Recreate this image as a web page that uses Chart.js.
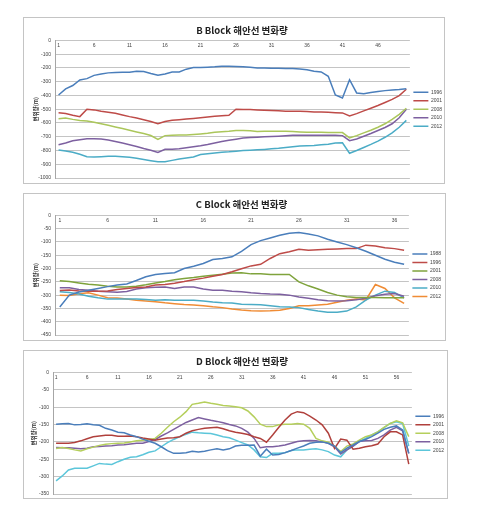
<!DOCTYPE html>
<html>
<head>
<meta charset="utf-8">
<script src="https://cdn.jsdelivr.net/npm/chart.js@4.4.1/dist/chart.umd.min.js"></script>
<style>
  body { margin: 0; background: #fff; width: 482px; height: 524px; position: relative; overflow: hidden; }
  .box { position: absolute; box-sizing: border-box; border: 1px solid #c4c4c4; background: #fff; }
  canvas { position: absolute; display: block; }
</style>
</head>
<body>
<div class="box" style="left:23px; top:17px; width:422px; height:167px;"></div>
<div class="box" style="left:23px; top:193px; width:423px; height:148px;"></div>
<div class="box" style="left:23px; top:350px; width:425px; height:149px;"></div>
<canvas id="chartB" width="428" height="165" style="left:24px; top:18px;"></canvas>
<canvas id="chartC" width="427" height="146" style="left:24px; top:194px;"></canvas>
<canvas id="chartD" width="430" height="147" style="left:24px; top:351px;"></canvas>
<script>
// B Block (50 survey points)
const bYears = ['1996', '2001', '2008', '2010', '2012'];
const b1996 = [-397,-352,-328,-288,-278,-254,-244,-236,-234,-232, -232,-224,-226,-241,-254,-244,-229,-229,-209,-197,
  -197,-195,-192,-187,-187,-190,-192,-195,-200,-200, -202,-202,-204,-204,-207,-214,-224,-229,-261,-397,
  -419,-286,-382,-387,-379,-372,-365,-360,-357,-352];
const b2001 = [-525,-532,-544,-554,-500,-505,-515,-522,-530,-542, -554,-564,-576,-589,-606,-589,-581,-576,-571,-567,
  -562,-557,-552,-547,-544,-500,-503,-503,-505,-507, -510,-512,-515,-515,-515,-517,-520,-520,-522,-525,
  -527,-549,-532,-512,-493,-473,-451,-429,-401,-355];
const b2008 = [-569,-564,-574,-582,-585,-595,-605,-617,-629,-641, -653,-665,-677,-691,-720,-692,-690,-688,-687,-684,
  -680,-675,-668,-663,-660,-655,-655,-657,-662,-660, -660,-660,-660,-662,-665,-667,-667,-668,-669,-670,
  -670,-709,-692,-672,-653,-631,-606,-574,-537,-493];
const b2010 = [-759,-746,-729,-722,-714,-714,-717,-724,-734,-746, -759,-771,-786,-798,-815,-791,-791,-788,-781,-773,
  -766,-757,-746,-735,-726,-718,-710,-706,-703,-700, -698,-696,-693,-690,-690,-690,-690,-690,-690,-690,
  -692,-729,-717,-697,-677,-655,-633,-606,-562,-500];
const b2012 = [-796,-803,-813,-828,-845,-847,-845,-842,-842,-845, -850,-857,-865,-874,-882,-882,-872,-862,-855,-847,
  -830,-823,-818,-813,-810,-805,-800,-798,-795,-792, -788,-784,-778,-773,-768,-766,-764,-759,-754,-746,
  -744,-820,-800,-778,-756,-732,-704,-672,-631,-581];

// C Block (37 survey points)
const cYears = ['1988', '1996', '2001', '2008', '2010', '2012'];
const c1988 = [-345,-300,-288,-282,-275,-268,-262,-258,-245,-231, -222,-219,-216,-200,-191,-181,-166,-162,-156,-135,
  -110,-95,-85,-75,-67,-64,-70,-77,-90,-100, -110,-122,-135,-150,-165,-176,-184];
const c1996 = [-283,-281,-284,-285,-285,-284,-279,-275,-271,-269, -262,-260,-255,-249,-242,-236,-229,-222,-212,-201,
  -190,-184,-162,-144,-137,-127,-131,-129,-127,-126, -125,-125,-112,-115,-122,-125,-131];
const c2001 = [-246,-249,-254,-259,-262,-267,-269,-269,-267,-261, -254,-249,-242,-237,-234,-229,-225,-221,-217,-216,
  -220,-220,-222,-222,-222,-250,-265,-277,-290,-300, -306,-309,-309,-309,-310,-310,-310];
const c2008 = [-272,-272,-279,-282,-285,-287,-289,-286,-277,-272, -270,-269,-275,-269,-269,-277,-282,-282,-285,-287,
  -291,-294,-296,-297,-300,-307,-312,-317,-321,-322, -321,-317,-312,-302,-297,-294,-304];
const c2010 = [-287,-290,-296,-304,-310,-315,-315,-315,-315,-316, -319,-317,-319,-319,-319,-322,-326,-329,-330,-334,
  -335,-336,-340,-344,-345,-347,-354,-360,-364,-364, -360,-344,-319,-300,-285,-290,-310];
const c2012 = [-300,-301,-295,-291,-300,-310,-311,-315,-319,-322, -325,-329,-332,-335,-337,-340,-344,-347,-352,-356,
  -359,-360,-359,-357,-350,-340,-340,-337,-334,-327, -319,-315,-318,-260,-275,-310,-331];

// D Block (58 survey points)
const dYears = ['1996', '2001', '2008', '2010', '2012'];
const d1996 = [-149,-148,-147,-151,-150,-148,-151,-152,-161,-166, -172,-174,-180,-185,-192,-198,-204,-214,-225,-233,
  -233,-231,-227,-229,-227,-223,-220,-223,-220,-212, -210,-210,-209,-241,-221,-238,-236,-231,-225,-218,
  -212,-204,-201,-200,-204,-212,-231,-218,-209,-199, -193,-185,-175,-164,-158,-154,-166,-233];
const d2001 = [-204,-204,-204,-202,-197,-191,-185,-183,-181,-181, -184,-184,-183,-185,-189,-192,-195,-192,-189,-188,
  -185,-175,-168,-164,-161,-159,-158,-162,-168,-172, -175,-179,-185,-190,-201,-180,-158,-137,-120,-113,
  -116,-126,-137,-151,-175,-219,-192,-195,-221,-218, -214,-211,-206,-185,-171,-171,-180,-264];
const d2008 = [-219,-216,-219,-223,-226,-220,-215,-210,-207,-205, -204,-203,-200,-197,-195,-193,-190,-175,-158,-142,
  -129,-113,-92,-89,-85,-89,-92,-95,-97,-99, -102,-111,-128,-149,-156,-156,-151,-149,-149,-147,
  -149,-161,-190,-197,-201,-212,-228,-212,-206,-195, -185,-180,-171,-158,-147,-139,-145,-185];
const d2010 = [-216,-217,-217,-218,-220,-218,-214,-213,-212,-211, -209,-208,-206,-204,-204,-199,-193,-183,-174,-164,
  -154,-144,-137,-130,-134,-138,-141,-145,-150,-154, -161,-172,-190,-217,-214,-214,-212,-209,-204,-199,
  -197,-196,-197,-200,-204,-214,-235,-223,-212,-199, -197,-196,-190,-180,-166,-158,-168,-233];
const d2012 = [-312,-298,-281,-276,-276,-276,-269,-262,-264,-265, -257,-250,-244,-243,-237,-230,-226,-214,-202,-193,
  -185,-178,-172,-174,-175,-176,-180,-185,-188,-195, -202,-209,-223,-243,-245,-233,-233,-231,-225,-223,
  -223,-221,-220,-223,-228,-238,-243,-223,-212,-199, -190,-180,-171,-159,-147,-142,-147,-212];

// survey point numbers along the x axis
function pointLabels(n) {
  const out = [];
  for (let i = 1; i <= n; i++) out.push(String(i));
  return out;
}

const tickFont = { family: 'Liberation Sans', size: 5 };

function buildChart(id, title, labels, years, series, colors, yMin, yStep, pad, titlePad) {
  return new Chart(document.getElementById(id), {
    type: 'line',
    data: {
      labels: labels,
      datasets: years.map((y, i) => ({
        label: y,
        data: series[i],
        borderColor: colors[i],
        backgroundColor: colors[i],
        borderWidth: 1.5,
        pointRadius: 0,
        tension: 0
      }))
    },
    options: {
      responsive: false,
      animation: false,
      devicePixelRatio: 1,
      layout: { padding: pad },
      plugins: {
        title: {
          display: true,
          text: title,
          color: '#222',
          font: { family: 'Noto Sans CJK KR', size: 9.5, weight: 'bold' },
          padding: titlePad
        },
        legend: {
          position: 'right',
          fullSize: false, // keep the legend centred on the plot, not the whole canvas
          labels: {
            usePointStyle: true,
            pointStyle: 'line',
            pointStyleWidth: 15,
            color: '#444',
            font: tickFont,
            padding: 3.5
          }
        },
        tooltip: { enabled: false }
      },
      scales: {
        x: {
          type: 'category',
          position: { y: 0 },
          offset: true,
          grid: { display: false, drawTicks: false },
          border: { display: false },
          ticks: {
            autoSkip: false,
            maxRotation: 0,
            padding: 2,
            color: '#444',
            font: tickFont,
            callback: (v, i) => (i % 5 === 0 ? labels[i] : '')
          }
        },
        y: {
          min: yMin,
          max: 0,
          // fixed axis width; the bottom gap is set by layout padding instead
          afterFit: (scale) => {
            scale.width = 23;
            scale.paddingBottom = 0;
          },
          grid: { color: '#c4c4c4', drawTicks: false },
          border: { color: '#a6a6a6' },
          ticks: { stepSize: yStep, padding: 4, color: '#444', font: tickFont, callback: (v) => String(v) },
          title: {
            display: true,
            text: '변위량(m)',
            color: '#333',
            padding: 1,
            font: { family: 'Noto Sans CJK KR', size: 5.5, weight: 'bold' }
          }
        }
      }
    }
  });
}

const chartB = buildChart('chartB', 'B Block 해안선 변화량', pointLabels(50), bYears,
  [b1996, b2001, b2008, b2010, b2012],
  ['#4A7EBB', '#BE4B48', '#ABC65B', '#7D60A0', '#4BACC6'],
  -1000, 100, { left: 8, right: 0, top: 0, bottom: 5 }, { top: 7, bottom: 4 });

const chartC = buildChart('chartC', 'C Block 해안선 변화량', pointLabels(37), cYears,
  [c1988, c1996, c2001, c2008, c2010, c2012],
  ['#4A7EBB', '#BE4B48', '#7FA33C', '#7D60A0', '#4BACC6', '#F08C35'],
  -450, 50, { left: 8, right: 0, top: 0, bottom: 5 }, { top: 5, bottom: 5 });

const chartD = buildChart('chartD', 'D Block 해안선 변화량', pointLabels(58), dYears,
  [d1996, d2001, d2008, d2010, d2012],
  ['#4A7EBB', '#B0403C', '#B5CF5C', '#7D60A0', '#5CC6DA'],
  -350, 50, { left: 6, right: 0, top: 0, bottom: 4 }, { top: 5, bottom: 5 });
</script>
</body>
</html>
